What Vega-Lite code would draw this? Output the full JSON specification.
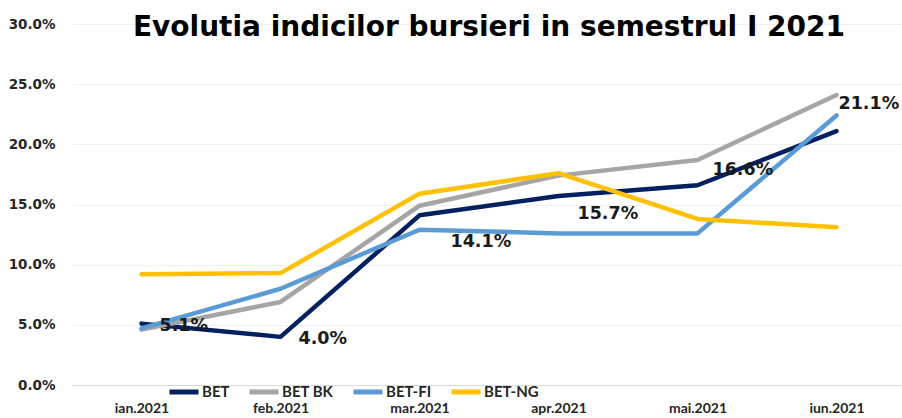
{
  "$schema": "https://vega.github.io/schema/vega-lite/v6.json",
  "width": 834,
  "height": 361,
  "autosize": {"type": "none"},
  "padding": {"left": 72, "top": 24, "right": 0, "bottom": 33},
  "background": "white",
  "title": {
    "text": "Evolutia indicilor bursieri in semestrul I 2021",
    "font": "DejaVu Sans",
    "fontSize": 28,
    "fontWeight": "bold",
    "color": "#000000",
    "anchor": "middle",
    "frame": "group",
    "baseline": "alphabetic",
    "offset": -13,
    "dy": 34
  },
  "config": {
    "view": {"stroke": null},
    "font": "DejaVu Sans"
  },
  "data": {
    "values": [
      {"luna": "ian.2021", "indice": "BET", "valoare": 0.051},
      {"luna": "feb.2021", "indice": "BET", "valoare": 0.040},
      {"luna": "mar.2021", "indice": "BET", "valoare": 0.141},
      {"luna": "apr.2021", "indice": "BET", "valoare": 0.157},
      {"luna": "mai.2021", "indice": "BET", "valoare": 0.166},
      {"luna": "iun.2021", "indice": "BET", "valoare": 0.211},
      {"luna": "ian.2021", "indice": "BET BK", "valoare": 0.046},
      {"luna": "feb.2021", "indice": "BET BK", "valoare": 0.069},
      {"luna": "mar.2021", "indice": "BET BK", "valoare": 0.149},
      {"luna": "apr.2021", "indice": "BET BK", "valoare": 0.174},
      {"luna": "mai.2021", "indice": "BET BK", "valoare": 0.187},
      {"luna": "iun.2021", "indice": "BET BK", "valoare": 0.241},
      {"luna": "ian.2021", "indice": "BET-FI", "valoare": 0.047},
      {"luna": "feb.2021", "indice": "BET-FI", "valoare": 0.080},
      {"luna": "mar.2021", "indice": "BET-FI", "valoare": 0.129},
      {"luna": "apr.2021", "indice": "BET-FI", "valoare": 0.126},
      {"luna": "mai.2021", "indice": "BET-FI", "valoare": 0.126},
      {"luna": "iun.2021", "indice": "BET-FI", "valoare": 0.224},
      {"luna": "ian.2021", "indice": "BET-NG", "valoare": 0.092},
      {"luna": "feb.2021", "indice": "BET-NG", "valoare": 0.093},
      {"luna": "mar.2021", "indice": "BET-NG", "valoare": 0.159},
      {"luna": "apr.2021", "indice": "BET-NG", "valoare": 0.176},
      {"luna": "mai.2021", "indice": "BET-NG", "valoare": 0.138},
      {"luna": "iun.2021", "indice": "BET-NG", "valoare": 0.131}
    ]
  },
  "encoding": {
    "x": {
      "field": "luna",
      "type": "ordinal",
      "sort": ["ian.2021", "feb.2021", "mar.2021", "apr.2021", "mai.2021", "iun.2021"],
      "scale": {"type": "point", "padding": 0.5},
      "axis": {
        "title": null,
        "labelAngle": 0,
        "labelFont": "Lato",
        "labelFontSize": 14,
        "labelFontWeight": "bold",
        "labelColor": "#262626",
        "labelPadding": 16,
        "labelBaseline": "top",
        "ticks": false,
        "domainColor": "#d9d9d9",
        "domainWidth": 1,
        "grid": false
      }
    },
    "y": {
      "field": "valoare",
      "type": "quantitative",
      "scale": {"domain": [0, 0.3], "nice": false},
      "axis": {
        "title": null,
        "values": [0, 0.05, 0.1, 0.15, 0.2, 0.25, 0.3],
        "format": ".1%",
        "labelFont": "DejaVu Sans",
        "labelFontSize": 13.5,
        "labelFontWeight": "bold",
        "labelColor": "#262626",
        "labelPadding": 17,
        "ticks": false,
        "domain": false,
        "gridColor": "#f0f0f0",
        "gridWidth": 1
      }
    }
  },
  "layer": [
    {
      "mark": {"type": "line", "strokeWidth": 4.5, "strokeJoin": "round", "strokeCap": "round"},
      "encoding": {
        "color": {
          "field": "indice",
          "type": "nominal",
          "scale": {
            "domain": ["BET", "BET BK", "BET-FI", "BET-NG"],
            "range": ["#002060", "#A5A5A5", "#5B9BD5", "#FFC000"]
          },
          "legend": {
            "title": null,
            "orient": "none",
            "direction": "horizontal",
            "legendX": 95,
            "legendY": 351,
            "symbolType": "stroke",
            "symbolSize": 841,
            "symbolStrokeWidth": 5,
            "labelFont": "Lato",
            "labelFontSize": 15,
            "labelFontWeight": "bold",
            "labelColor": "#262626",
            "labelOffset": 1,
            "columnPadding": 9,
            "symbolOffset": 0
          }
        }
      }
    },
    {
      "transform": [
        {"filter": "datum.indice === 'BET' && (datum.luna === 'ian.2021' || datum.luna === 'feb.2021')"}
      ],
      "mark": {"type": "text", "align": "left", "baseline": "middle", "dx": 18, "dy": 2, "font": "DejaVu Sans", "fontSize": 17.5, "fontWeight": "bold", "color": "#1a1a1a"},
      "encoding": {"text": {"field": "valoare", "type": "quantitative", "format": ".1%"}}
    },
    {
      "transform": [
        {"filter": "datum.indice === 'BET' && datum.luna === 'mar.2021'"}
      ],
      "mark": {"type": "text", "align": "left", "baseline": "middle", "dx": 31, "dy": 27, "font": "DejaVu Sans", "fontSize": 17.5, "fontWeight": "bold", "color": "#1a1a1a"},
      "encoding": {"text": {"field": "valoare", "type": "quantitative", "format": ".1%"}}
    },
    {
      "transform": [
        {"filter": "datum.indice === 'BET' && datum.luna === 'apr.2021'"}
      ],
      "mark": {"type": "text", "align": "left", "baseline": "middle", "dx": 19, "dy": 18, "font": "DejaVu Sans", "fontSize": 17.5, "fontWeight": "bold", "color": "#1a1a1a"},
      "encoding": {"text": {"field": "valoare", "type": "quantitative", "format": ".1%"}}
    },
    {
      "transform": [
        {"filter": "datum.indice === 'BET' && datum.luna === 'mai.2021'"}
      ],
      "mark": {"type": "text", "align": "left", "baseline": "middle", "dx": 15, "dy": -15, "font": "DejaVu Sans", "fontSize": 17.5, "fontWeight": "bold", "color": "#1a1a1a"},
      "encoding": {"text": {"field": "valoare", "type": "quantitative", "format": ".1%"}}
    },
    {
      "transform": [
        {"filter": "datum.indice === 'BET' && datum.luna === 'iun.2021'"}
      ],
      "mark": {"type": "text", "align": "left", "baseline": "middle", "dx": 2, "dy": -27, "font": "DejaVu Sans", "fontSize": 17.5, "fontWeight": "bold", "color": "#1a1a1a"},
      "encoding": {"text": {"field": "valoare", "type": "quantitative", "format": ".1%"}}
    }
  ]
}
